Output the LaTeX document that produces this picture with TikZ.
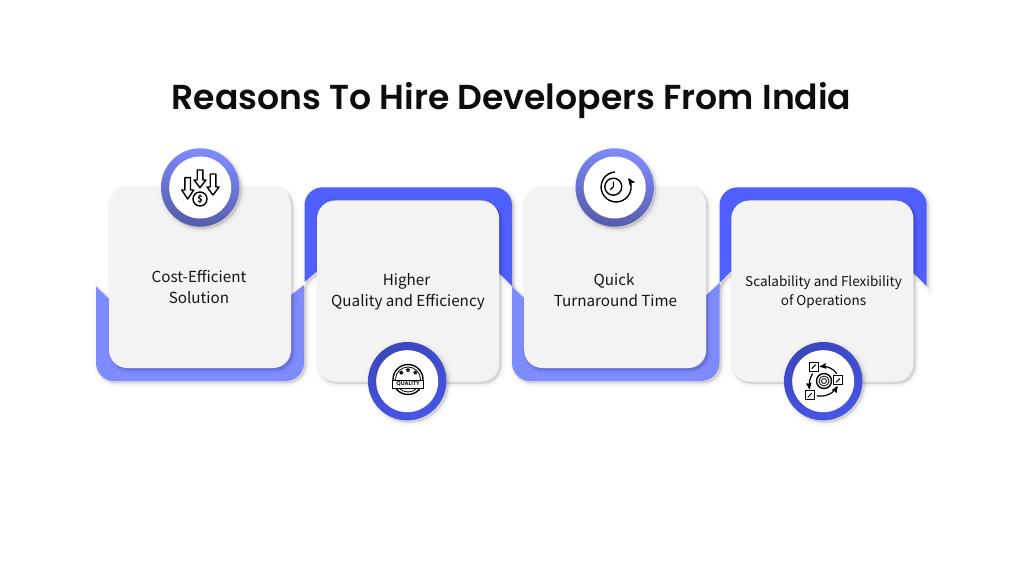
\documentclass[tikz,border=0pt]{standalone}
\usepackage{fontspec}
\usetikzlibrary{arrows,positioning,shapes.geometric}
\newfontfamily\bodyfont{Noto Sans CJK SC}
\newfontfamily\titlefont{Poppins}[BoldFont=Poppins SemiBold]
\definecolor{lightband}{HTML}{7F8CFF}
\definecolor{darkband}{HTML}{4F60FF}
\definecolor{cardgray}{HTML}{F3F3F3}

\begin{document}
\begin{tikzpicture}[x=1pt,y=1pt,>=stealth',
    softshadow/.style={
      preaction={draw=black,fill=black,opacity=.025,line width=8pt,transform canvas={xshift=2pt,yshift=-2pt}},
      preaction={draw=black,fill=black,opacity=.035,line width=4pt,transform canvas={xshift=2pt,yshift=-2pt}},
      preaction={draw=black,fill=black,opacity=.05,line width=1pt,transform canvas={xshift=2pt,yshift=-2pt}}},
    card/.style={rectangle,rounded corners=18pt,fill=cardgray,minimum width=182pt,minimum height=181pt,inner sep=0pt,softshadow},
    ring/.style={circle,minimum size=78.4pt,inner sep=0pt,softshadow},
    lightring/.style={ring,left color=lightband,right color=lightband!66!black,shading angle=-10},
    darkring/.style={ring,left color=darkband!74!black,right color=darkband!90!black,shading angle=20},
    disc/.style={circle,fill=white,minimum size=62pt,inner sep=0pt},
    label/.style={font=\bodyfont\fontsize{15.2}{21}\selectfont,align=center,text=black!92},
    icon/.style={draw=black,line width=1.4pt,line join=round},
    tickbox/.style={draw=black,line width=1.3pt,minimum size=9pt,inner sep=0pt},
    headline/.style={font=\titlefont\bfseries\fontsize{34.6}{40}\selectfont}]

  \useasboundingbox (0,0) rectangle (1024,584);

  % bands
  \fill[lightband,softshadow] (96,297.5) -- (96,221) arc[start angle=180,end angle=270,radius=18] -- (286,203)
    arc[start angle=270,end angle=360,radius=18] -- (304,299) -- (291,289) -- (109,285) -- cycle;
  \fill[darkband,softshadow] (304.5,302) -- (304.5,378.7) arc[start angle=180,end angle=90,radius=18] -- (494,396.7)
    arc[start angle=90,end angle=0,radius=18] -- (512,298) -- (499.3,310.7) -- (317.3,313) -- cycle;
  \fill[lightband,softshadow] (512,297.5) -- (512,221) arc[start angle=180,end angle=270,radius=18] -- (701.5,203)
    arc[start angle=270,end angle=360,radius=18] -- (719.5,301) -- (706,288.5) -- (524.5,285.5) -- cycle;
  \fill[darkband,softshadow] (719.5,301) -- (719.5,378.7) arc[start angle=180,end angle=90,radius=18] -- (908.7,396.7)
    arc[start angle=90,end angle=0,radius=18] -- (926.7,298) -- (914,310.7) -- (732.3,314) -- cycle;

  % cards
  \node[card] (A) at (200,306.5) {};
  \node[card] (B) [right=25.7pt of A,yshift=-13.5pt] {};
  \node[card] (C) [right=24.7pt of B,yshift=13.5pt] {};
  \node[card] (D) [right=24.7pt of C,yshift=-13.5pt] {};

  \node[label] (textA) at (199,297) {Cost-Efficient\\Solution};
  \node[label] (textB) at (408,292.5) {\hspace*{-3pt}Higher\\Quality and Efficiency};
  \node[label] (textC) at (615.5,294) {\hspace*{-3pt}Quick\\Turnaround Time};
  \node[label,font=\bodyfont\fontsize{13.5}{19}\selectfont] (textD) at (823.5,291.5) {Scalability and Flexibility\\of Operations};

  % rings
  \node[lightring] (ringA) at (200.2,396.5) {};
  \node[darkring] (ringB) at (407.2,202.8) {};
  \node[lightring] (ringC) at (614.7,396.5) {};
  \node[darkring] (ringD) at (823.2,202.8) {};
  \node[disc] (discA) at (ringA) {};
  \node[disc] (discB) at (ringB) {};
  \node[disc] (discC) at (ringC) {};
  \node[disc] (discD) at (ringD) {};

  % icon: falling costs
  \draw[icon] (197.2,414) -- (202.8,414) -- (202.8,404) -- (206,404) -- (200,396.3) -- (194,404) -- (197.2,404) -- cycle;
  \draw[icon] (184.9,406.3) -- (190.5,406.3) -- (190.5,394) -- (193.7,394) -- (187.7,385) -- (181.7,394) -- (184.9,394) -- cycle;
  \draw[icon] (210.2,410) -- (215.8,410) -- (215.8,397) -- (219,397) -- (213,389) -- (207,397) -- (210.2,397) -- cycle;
  \node[circle,icon,fill=white,minimum size=14pt,inner sep=0pt,font=\bodyfont\bfseries\fontsize{9}{9}\selectfont] (coin) at (200,385) {\$};

  % icon: quality stamp
  \node[circle,icon,minimum size=30pt,inner sep=0pt] (stamp) at (408,204.5) {};
  \node[circle,draw=black,line width=.8pt,minimum size=25pt,inner sep=0pt] (stampin) at (stamp) {};
  \node[rectangle,draw=black,line width=1.1pt,fill=white,minimum width=31pt,minimum height=8pt,inner sep=0pt,
    font=\titlefont\bfseries\fontsize{5.6}{6}\selectfont] (stampband) at (408,199.7) {QUALITY};
  \node[star,fill=black,minimum size=4.5pt,inner sep=0pt] (starA) at (401.3,211.3) {};
  \node[star,fill=black,minimum size=4.5pt,inner sep=0pt] (starB) at (408,214) {};
  \node[star,fill=black,minimum size=4.5pt,inner sep=0pt] (starC) at (415.3,211.3) {};

  % icon: clock
  \node[circle,icon,minimum size=17pt,inner sep=0pt] (clock) at (613.3,397.3) {};
  \draw[icon,->] (614.8,412) arc[start angle=95,end angle=395,radius=15];
  \draw[line width=1.1pt] (clock.center) ++(0,5) -- (clock.center) -- ++(-3,-3);

  % icon: target with cycle
  \node[circle,icon,minimum size=15pt,inner sep=0pt] (target) at (824,203) {};
  \node[circle,draw=black,line width=.8pt,minimum size=10pt,inner sep=0pt] (targetmid) at (target) {};
  \node[circle,draw=black,line width=.8pt,minimum size=5pt,inner sep=0pt] (targetin) at (target) {};
  \node[tickbox] (boxA) at (813.7,217.3) {};
  \node[tickbox] (boxB) at (838,203.7) {};
  \node[tickbox] (boxC) at (809.7,188.7) {};
  \draw[line width=1pt] (boxA.center) ++(-2,-2) -- ++(4,4);
  \draw[line width=1pt] (boxB.center) ++(-2,-2) -- ++(4,4);
  \draw[line width=1pt] (boxC.center) ++(-2,-2) -- ++(4,4);
  \draw[->,line width=1.2pt,shorten >=1pt,shorten <=2pt] (boxB.north) to[bend right=30] (boxA.east);
  \draw[->,line width=1.2pt,shorten >=1pt,shorten <=2pt] (boxA.south) to[bend right=20] (boxC.north);
  \draw[->,line width=1.2pt,shorten >=1pt,shorten <=2pt] (boxC.east) to[bend right=35] (boxB.south);

  % title
  \node[headline,text=black!95] (title) at (511.5,483.5) {Reasons To Hire Developers From India};
\end{tikzpicture}
\end{document}
